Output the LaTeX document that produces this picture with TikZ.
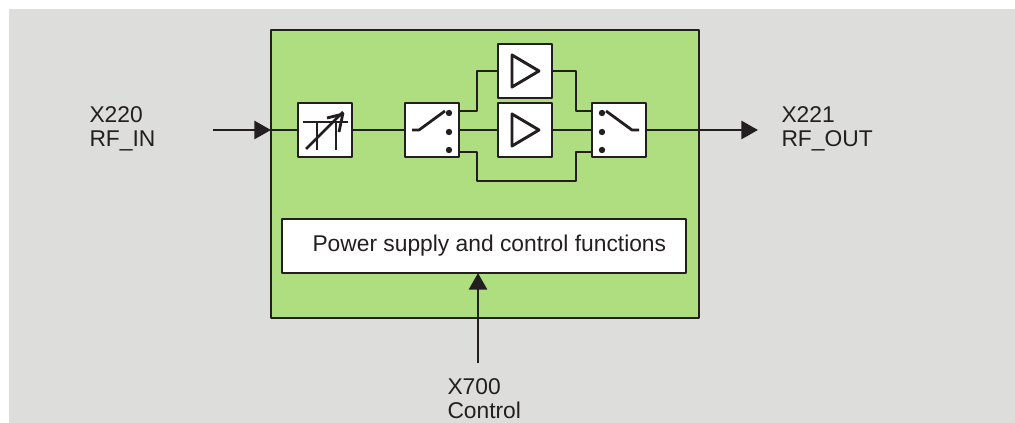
\documentclass[tikz,border=0pt]{standalone}
\usepackage{xcolor}
\usepackage{fontspec}
\setmainfont{Liberation Sans}
\usetikzlibrary{arrows.meta,positioning}
\definecolor{inkdark}{HTML}{231F20}
\definecolor{panelgray}{HTML}{DDDDDB}
\definecolor{unitgreen}{HTML}{AEDE80}

\begin{document}
\begin{tikzpicture}[x=0.75pt,y=-0.75pt,>={Triangle[length=12.5pt,width=13.5pt]},
		line width=2.2pt,line join=round,draw=inkdark,text=inkdark,
		font=\fontsize{17.1}{18.4}\selectfont,
		ampsym/.pic={\draw[line width=2.2pt] (-13,-16) -- (14,0) -- (-13,16) -- cycle;},
		attsym/.pic={
			\draw[line width=2.1pt] (-22,-8) -- (23,-8) (-8,-8) -- (-8,20) (11,-8) -- (11,20);
			\draw[line width=2.1pt] (-19,19) -- (18,-18) (2,-12) -- (18,-16) (14,2) -- (18,-17);},
		swsym/.pic={
			\draw[line width=2.1pt] (-20,0) -- (-13,0) -- (13,-19);
			\fill[inkdark] (17,-17) circle (3.2) (17,2) circle (3.2) (17,20) circle (3.2);}]
		\tikzstyle{every node}=[align=left,outer sep=0pt]
		\tikzstyle{unit}=[draw,fill=white,minimum width=40.5pt,minimum height=40.5pt,inner sep=0pt]
		\tikzstyle{label}=[inner sep=0pt,anchor=west]
		
		\path[use as bounding box] (0,0) rectangle (1015,423);
		\fill[panelgray] (9,9) rectangle (1015,423);
		
		\node[draw,fill=unitgreen,minimum width=321pt,minimum height=216pt] (Main) at (485,174) {};
		\node[unit] (Att) at (325,130) {};
		\node[unit] (SwIn) [right=39.75pt of Att] {};
		\node[unit] (AmpMid) [right=29.25pt of SwIn] {};
		\node[unit] (AmpTop) [above=3.75pt of AmpMid] {};
		\node[unit] (SwOut) [right=30pt of AmpMid] {};
		\node[draw,fill=white,minimum width=303pt,minimum height=40.5pt,inner sep=0pt] (Power) at (484,246) {\hspace*{8pt}Power supply and control functions};
		
		\node[label] (LabelIn) at (89.5,129) {X220\\RF\_IN};
		\node[label] (LabelOut) at (781.5,129) {X221\\RF\_OUT};
		\node[label] (LabelCtrl) at (447.5,398.5) {X700\\Control};
		
		\coordinate (InStart) at (213,130);
		\coordinate (OutEnd) at (758,130);
		\coordinate (CtrlStart) at (478,363);
		
		\draw[->] (InStart) -- (Main.west |- Att.west);
		\draw (Main.west |- Att.west) -- (Att.west);
		\draw (Att.east) -- (SwIn.west);
		\draw (SwIn.east) -- (AmpMid.west);
		\draw (AmpMid.east) -- (SwOut.west);
		\draw[->] (SwOut.east) -- (OutEnd);
		\draw[->] (CtrlStart) -- (CtrlStart |- Power.south);
		\draw ([yshift=14.25pt]SwIn.east) -- ++(18,0) |- (AmpTop.west);
		\draw (AmpTop.east) -- ++(24,0) |- ([yshift=14.25pt]SwOut.west);
		\draw ([yshift=-16.5pt]SwIn.east) -- ++(18,0) -- ++(0,29) -- ++(99,0) |- ([yshift=-16.5pt]SwOut.west);
		
		\pic at (Att) {attsym};
		\pic at (SwIn) {swsym};
		\pic[xscale=-1] at (SwOut) {swsym};
		\pic at (AmpTop) {ampsym};
		\pic at (AmpMid) {ampsym};
		
\end{tikzpicture}
\end{document}
